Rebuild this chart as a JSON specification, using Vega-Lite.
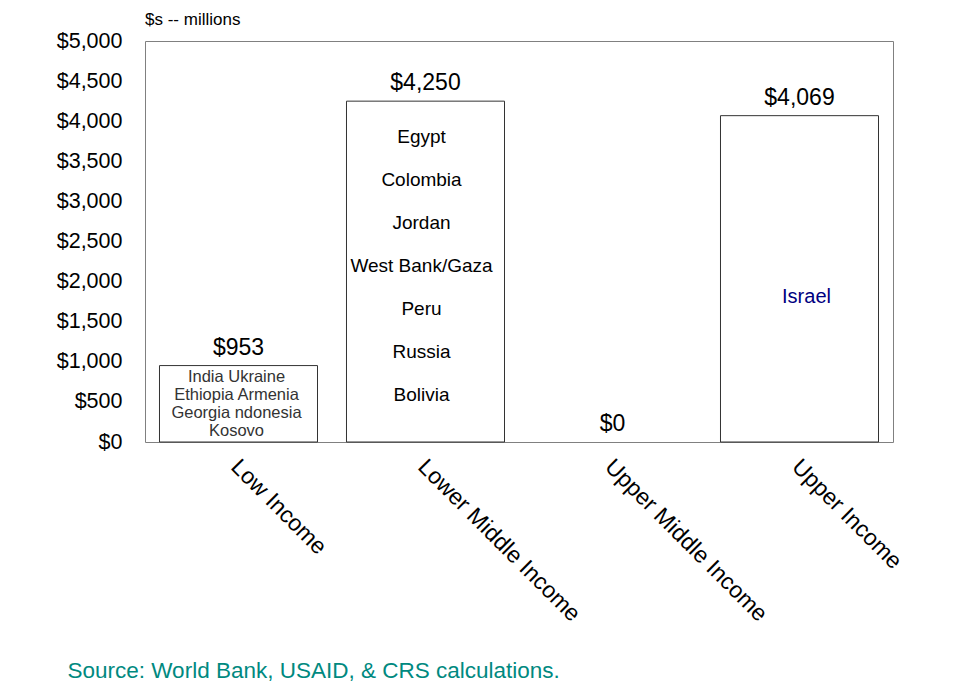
{
  "$schema": "https://vega.github.io/schema/vega-lite/v6.json",
  "width": 748,
  "height": 401,
  "autosize": {"type": "none"},
  "padding": {"left": 145, "top": 41, "right": 61, "bottom": 241},
  "background": "white",
  "config": {
    "font": "Liberation Sans",
    "view": {"stroke": "#808080", "strokeWidth": 1}
  },
  "title": {
    "text": "$s -- millions",
    "anchor": "start",
    "frame": "group",
    "fontSize": 17,
    "fontWeight": "normal",
    "color": "#000000",
    "offset": 1
  },
  "data": {
    "values": [
      {"category": "Low Income", "value": 953, "countries": ["India  Ukraine", "Ethiopia  Armenia", "Georgia  ndonesia", "Kosovo"]},
      {"category": "Lower Middle Income", "value": 4250, "countries": ["Egypt", "Colombia", "Jordan", "West Bank/Gaza", "Peru", "Russia", "Bolivia"]},
      {"category": "Upper Middle Income", "value": 0, "countries": []},
      {"category": "Upper Income", "value": 4069, "countries": ["Israel"]}
    ]
  },
  "encoding": {
    "x": {
      "field": "category",
      "type": "nominal",
      "sort": ["Low Income", "Lower Middle Income", "Upper Middle Income", "Upper Income"],
      "scale": {
        "domain": ["Low Income", "Lower Middle Income", "Upper Middle Income", "Upper Income"],
        "paddingInner": 0.155,
        "paddingOuter": 0.0775
      },
      "axis": {
        "title": "Source: World Bank, USAID, & CRS calculations.",
        "titleColor": "#00897f",
        "titleFontSize": 22.5,
        "titleFontWeight": "normal",
        "titleAnchor": "start",
        "titleAlign": "left",
        "titleBaseline": "alphabetic",
        "titleX": -78,
        "titleY": 235,
        "labelAngle": 45,
        "labelAlign": "left",
        "labelBaseline": "top",
        "labelFontSize": 23,
        "labelColor": "#000000",
        "labelPadding": 13,
        "labelOffset": 4,
        "labelLimit": 0,
        "labelOverlap": false,
        "ticks": false,
        "domain": false
      }
    },
    "y": {
      "field": "value",
      "type": "quantitative",
      "scale": {"domain": [0, 5000], "nice": false},
      "axis": {
        "title": null,
        "values": [0, 500, 1000, 1500, 2000, 2500, 3000, 3500, 4000, 4500, 5000],
        "format": "$,.0f",
        "labelFontSize": 21.5,
        "labelColor": "#000000",
        "labelPadding": 23,
        "ticks": false,
        "domain": false,
        "grid": false
      }
    }
  },
  "layer": [
    {
      "transform": [{"filter": "datum.value > 0"}],
      "mark": {"type": "bar", "fill": "white", "stroke": "#333333", "strokeWidth": 1}
    },
    {
      "mark": {"type": "text", "baseline": "alphabetic", "dy": -11, "fontSize": 23, "color": "#000000"},
      "encoding": {"text": {"field": "value", "type": "quantitative", "format": "$,.0f"}}
    },
    {
      "transform": [{"filter": "datum.category === 'Low Income'"}],
      "mark": {"type": "text", "baseline": "top", "align": "center", "dx": -2, "dy": 3, "fontSize": 16.5, "lineHeight": 18.3, "color": "#333333"},
      "encoding": {"text": {"field": "countries"}}
    },
    {
      "transform": [{"filter": "datum.category === 'Lower Middle Income'"}],
      "mark": {"type": "text", "baseline": "top", "align": "center", "dx": -4, "dy": 27, "fontSize": 19, "lineHeight": 43, "color": "#000000"},
      "encoding": {"text": {"field": "countries"}}
    },
    {
      "transform": [{"filter": "datum.category === 'Upper Income'"}],
      "mark": {"type": "text", "baseline": "middle", "align": "center", "dx": 7, "dy": 181, "fontSize": 20, "color": "#000080"},
      "encoding": {"text": {"field": "countries"}}
    }
  ]
}
